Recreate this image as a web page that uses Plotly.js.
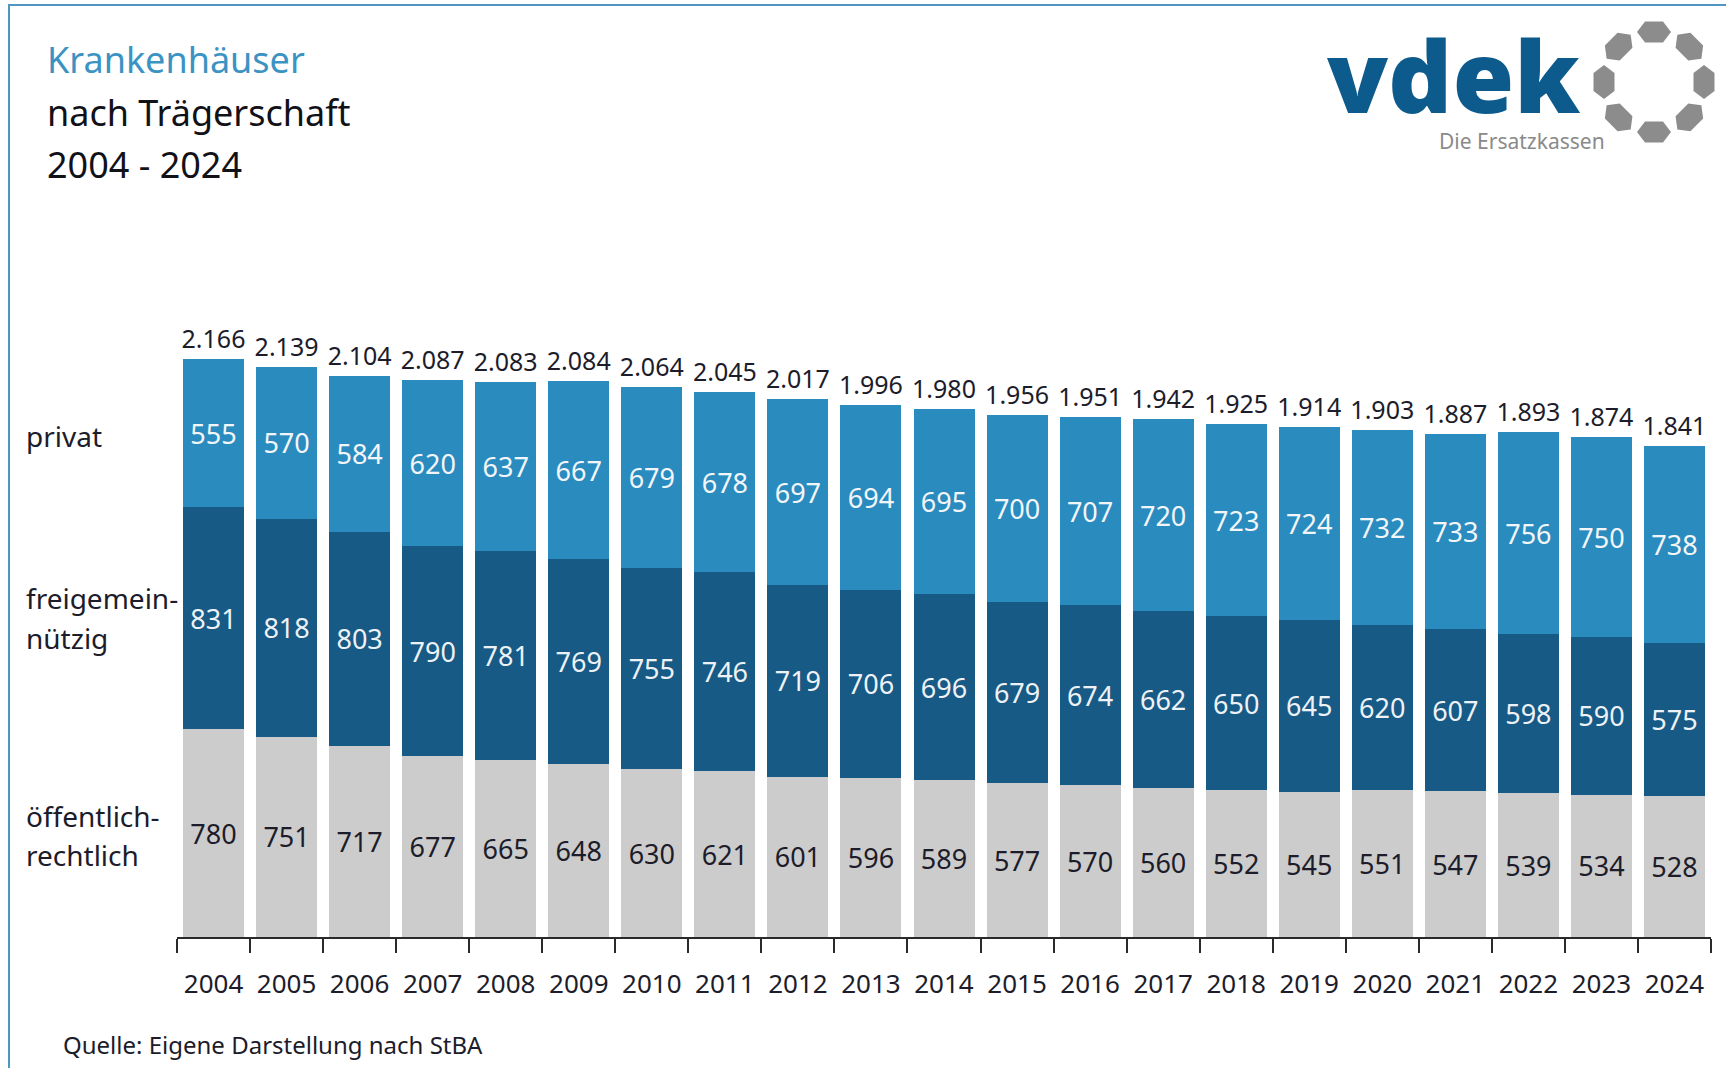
<!DOCTYPE html>
<html>
<head>
<meta charset="utf-8">
<script src="https://cdn.plot.ly/plotly-3.0.1.min.js"></script>
<style>
  html, body { margin: 0; padding: 0; background: #ffffff; }
  #chart { width: 1726px; height: 1068px; }
</style>
</head>
<body>
<div id="chart"></div>
<script>
// ---------------- data ----------------
const years = ["2004","2005","2006","2007","2008","2009","2010","2011","2012","2013","2014",
               "2015","2016","2017","2018","2019","2020","2021","2022","2023","2024"];
const oeffentlich = [780,751,717,677,665,648,630,621,601,596,589,577,570,560,552,545,551,547,539,534,528];
const freigemein  = [831,818,803,790,781,769,755,746,719,706,696,679,674,662,650,645,620,607,598,590,575];
const privat      = [555,570,584,620,637,667,679,678,697,694,695,700,707,720,723,724,732,733,756,750,738];
const totals      = [2166,2139,2104,2087,2083,2084,2064,2045,2017,1996,1980,1956,1951,1942,1925,1914,1903,1887,1893,1874,1841];
const seriesNames = ["öffentlich-rechtlich", "freigemeinnützig", "privat"];

// ---------------- geometry helpers (layout only) ----------------
const W = 1726, H = 1068;
const ML = 177, MR = 15, MT = 297, MB = 131;
const PW = W - ML - MR, PH = H - MT - MB;
const px = x => (x - ML) / PW;
const py = y => (H - MB - y) / PH;

const FONT = "Noto Sans, Open Sans, sans-serif";
const DARK = "#1c1c2a";
const C_PRIV = "#2a8bbf";
const C_FREI = "#165a85";
const C_OEFF = "#cccccc";

const barCommon = {
  type: "bar",
  x: years,
  texttemplate: "%{y}",
  textposition: "inside",
  insidetextanchor: "middle",
  textangle: 0,
  constraintext: "none",
  hoverinfo: "skip",
  marker: { line: { width: 0 } }
};

const traces = [
  Object.assign({}, barCommon, {
    name: seriesNames[0], y: oeffentlich,
    marker: { color: C_OEFF },
    textfont: { family: FONT, size: 27, color: DARK }
  }),
  Object.assign({}, barCommon, {
    name: seriesNames[1], y: freigemein,
    marker: { color: C_FREI },
    textfont: { family: FONT, size: 27, color: "#eef2f6" }
  }),
  Object.assign({}, barCommon, {
    name: seriesNames[2], y: privat,
    marker: { color: C_PRIV },
    textfont: { family: FONT, size: 27, color: "#f3f6f9" }
  }),
  {
    type: "scatter", mode: "markers+text",
    x: years, y: totals,
    marker: { size: 6, color: "rgba(0,0,0,0)" },
    texttemplate: "%{y:,}",
    textposition: "top center",
    textfont: { family: FONT, size: 25, color: DARK },
    cliponaxis: false,
    hoverinfo: "skip",
    showlegend: false
  }
];

// ---------------- annotations ----------------
function ann(text, x, y, size, color, extra) {
  return Object.assign({
    text: text, xref: "paper", yref: "paper",
    x: px(x), y: py(y), xanchor: "left", yanchor: "middle",
    showarrow: false,
    font: { family: FONT, size: size, color: color }
  }, extra || {});
}

const annotations = [
  ann("Krankenhäuser", 45, 60, 36, "#3b93c3"),
  ann("nach Trägerschaft", 45, 112, 36, "#111118"),
  ann("2004 - 2024", 45, 165, 36, "#111118"),
  ann("privat", 24, 436, 28, DARK),
  ann("freigemein-", 24, 598, 28, DARK),
  ann("nützig", 24, 638, 28, DARK),
  ann("öffentlich-", 24, 816, 28, DARK),
  ann("rechtlich", 24, 855, 28, DARK),
  ann("Quelle: Eigene Darstellung nach StBA", 61, 1044, 24, DARK),
  // logo
  ann("vdek", 1453, 74, 100, "#0d5b8c", { xanchor: "center", height: 84, valign: "middle",
      font: { family: "Open Sans, sans-serif", size: 100, color: "#0d5b8c", weight: 800 } }),
  ann("Die Ersatzkassen", 1522, 141, 21, "#8a8a8a", { xanchor: "center" })
];

// ---------------- shapes (frame + logo ring) ----------------
const shapes = [
  { type: "rect", xref: "paper", yref: "paper",
    x0: px(9), x1: px(1760), y0: py(5), y1: py(1100),
    line: { color: "#4f97c2", width: 2 }, fillcolor: "rgba(0,0,0,0)", layer: "below" }
];
const ringCx = 1654, ringCy = 82, ringR = 50;
for (let k = 0; k < 8; k++) {
  const a = k * Math.PI / 4;
  const cx = ringCx + ringR * Math.cos(a), cy = ringCy + ringR * Math.sin(a);
  const pts = [[-17,0],[-9,10.5],[9,10.5],[17,0],[9,-10.5],[-9,-10.5]];
  const tx = -Math.sin(a), ty = Math.cos(a), rx = Math.cos(a), ry = Math.sin(a);
  let d = "";
  pts.forEach((p, i) => {
    const X = cx + p[0] * tx + p[1] * rx;
    const Y = cy + p[0] * ty + p[1] * ry;
    d += (i === 0 ? "M" : "L") + px(X).toFixed(5) + "," + py(Y).toFixed(5);
  });
  d += "Z";
  shapes.push({ type: "path", xref: "paper", yref: "paper", path: d,
    fillcolor: "#8c8c8c", line: { width: 0 } });
}

const layout = {
  width: W, height: H,
  margin: { l: ML, r: MR, t: MT, b: MB, pad: 0 },
  paper_bgcolor: "#ffffff", plot_bgcolor: "#ffffff",
  barmode: "stack",
  bargap: 0.165,
  showlegend: false,
  separators: ",.",
  font: { family: FONT, color: DARK },
  xaxis: {
    type: "category",
    range: [-0.5, years.length - 0.5],
    tickson: "boundaries",
    ticks: "outside", ticklen: 14, tickwidth: 2, tickcolor: "#2a2a2a",
    showline: true, linecolor: "#2a2a2a", linewidth: 2,
    showgrid: false, zeroline: false,
    ticklabelstandoff: 23,
    tickfont: { family: FONT, size: 26, color: DARK },
    fixedrange: true
  },
  yaxis: {
    range: [0, 2400], visible: false, showgrid: false, zeroline: false, fixedrange: true
  },
  annotations: annotations,
  shapes: shapes,
  hovermode: false
};

Plotly.newPlot("chart", traces, layout, { displayModeBar: false, staticPlot: true });
</script>
</body>
</html>
